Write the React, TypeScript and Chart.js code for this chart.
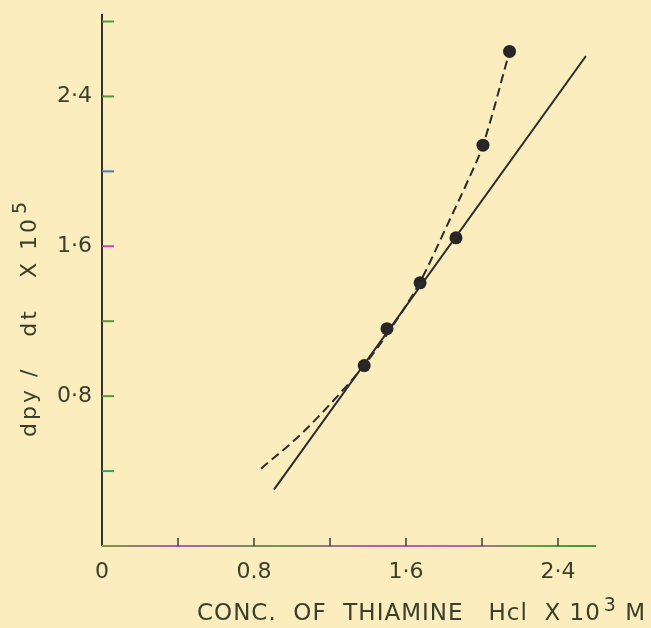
import { useEffect, useRef } from 'react';
import { Chart, registerables } from 'chart.js';

Chart.register(...registerables);

// ---- data ----
const fittedX = [0.905, 2.547];
const fittedY = [0.301, 2.616];

const measuredX = [1.38, 1.5, 1.674, 1.863, 2.005, 2.145];
const measuredY = [0.963, 1.16, 1.405, 1.645, 2.14, 2.64];

const curveX = [0.837, 1.04, 1.235, 1.38, 1.52, 1.674, 1.82, 1.93, 2.005, 2.145];
const curveY = [0.413, 0.59, 0.795, 0.965, 1.16, 1.41, 1.72, 1.96, 2.14, 2.64];

const xTickValues = [0.4, 0.8, 1.2, 1.6, 2.0, 2.4];
const yTickValues = [0.4, 0.8, 1.2, 1.6, 2.0, 2.4, 2.8];
const yTickColors = ['#3f9a6a', '#4f9a3a', '#4f9a3a', '#c04aa8', '#4a7ab8', '#4f9a3a', '#4f9a3a'];

const xTickLabels: Record<string, string> = { '0': '0', '8': '0.8', '16': '1·6', '24': '2·4' };
const yTickLabels: Record<string, string> = { '8': '0·8', '16': '1·6', '24': '2·4' };

const xTitle = 'CONC.  OF  THIAMINE   Hcl  X 10';
const xTitleSup = '3';
const xTitleEnd = ' M';
const yTitle = 'dpy /   dt   X 10';
const yTitleSup = '5';

const BG = '#fbedbd';
const INK = '#2b2b2b';
const TEXT = '#3a3f2c';
const FONT = "'DejaVu Sans', sans-serif";

const decoPlugin = {
  id: 'deco',
  beforeDraw(chart: any) {
    const { ctx } = chart;
    ctx.save();
    ctx.fillStyle = BG;
    ctx.fillRect(0, 0, chart.width, chart.height);
    ctx.restore();
  },
  afterDraw(chart: any) {
    const { ctx } = chart;
    const xs = chart.scales.x;
    const ys = chart.scales.y;
    const x0 = xs.getPixelForValue(0);
    const y0 = ys.getPixelForValue(0);
    const xEnd = xs.getPixelForValue(xs.max);
    const yTop = ys.getPixelForValue(ys.max);
    ctx.save();
    // y axis line
    ctx.strokeStyle = '#333333';
    ctx.lineWidth = 2;
    ctx.beginPath();
    ctx.moveTo(x0, y0);
    ctx.lineTo(x0, yTop);
    ctx.stroke();
    // x axis line with printing colour fringes
    const g = ctx.createLinearGradient(x0, 0, xEnd, 0);
    g.addColorStop(0, '#7a9a3a');
    g.addColorStop(0.15, '#b05ab8');
    g.addColorStop(0.35, '#6a9a50');
    g.addColorStop(0.55, '#b65ab0');
    g.addColorStop(0.72, '#c060b0');
    g.addColorStop(0.88, '#5aa040');
    g.addColorStop(1, '#3c9a3c');
    ctx.strokeStyle = g;
    ctx.beginPath();
    ctx.moveTo(x0, y0);
    ctx.lineTo(xEnd, y0);
    ctx.stroke();
    // x ticks (inward, upward)
    ctx.strokeStyle = '#3a3a30';
    ctx.lineWidth = 1.5;
    xTickValues.forEach((v) => {
      const px = xs.getPixelForValue(v);
      ctx.beginPath();
      ctx.moveTo(px, y0);
      ctx.lineTo(px, y0 - 8);
      ctx.stroke();
    });
    // y ticks (inward, right)
    ctx.lineWidth = 2;
    yTickValues.forEach((v, i) => {
      const py = ys.getPixelForValue(v);
      ctx.strokeStyle = yTickColors[i];
      ctx.beginPath();
      ctx.moveTo(x0, py);
      ctx.lineTo(x0 + 12, py);
      ctx.stroke();
    });
    // x title
    ctx.fillStyle = TEXT;
    ctx.textAlign = 'left';
    ctx.textBaseline = 'alphabetic';
    (ctx as any).letterSpacing = '1px';
    ctx.font = `23px ${FONT}`;
    let tx = 197;
    const ty = 620;
    ctx.fillText(xTitle, tx, ty);
    tx += ctx.measureText(xTitle).width + 3;
    ctx.font = `19px ${FONT}`;
    ctx.fillText(xTitleSup, tx, ty - 9);
    tx += ctx.measureText(xTitleSup).width;
    ctx.font = `23px ${FONT}`;
    ctx.fillText(xTitleEnd, tx, ty);
    // y title
    ctx.translate(36, 437);
    ctx.rotate(-Math.PI / 2);
    (ctx as any).letterSpacing = '3px';
    ctx.font = `22px ${FONT}`;
    ctx.fillText(yTitle, 0, 0);
    const w = ctx.measureText(yTitle).width;
    ctx.font = `19px ${FONT}`;
    ctx.fillText(yTitleSup, w + 2, -10);
    ctx.restore();
  },
};

export default function App() {
  const ref = useRef<HTMLCanvasElement | null>(null);
  useEffect(() => {
    if (!ref.current) return;
    const chart = new Chart(ref.current, {
      type: 'scatter',
      data: {
        datasets: [
          {
            data: fittedX.map((x, i) => ({ x, y: fittedY[i] })),
            showLine: true,
            borderColor: INK,
            borderWidth: 2,
            pointRadius: 0,
          },
          {
            data: curveX.map((x, i) => ({ x, y: curveY[i] })),
            showLine: true,
            borderColor: INK,
            borderWidth: 2,
            borderDash: [9, 5],
            cubicInterpolationMode: 'monotone',
            pointRadius: 0,
          },
          {
            data: measuredX.map((x, i) => ({ x, y: measuredY[i] })),
            showLine: false,
            pointRadius: 6.5,
            pointBackgroundColor: '#262626',
            pointBorderColor: '#262626',
            pointBorderWidth: 0,
          },
        ],
      } as any,
      options: {
        responsive: false,
        animation: false,
        layout: { padding: { top: 14, right: 55, left: 0, bottom: 0 } },
        plugins: { legend: { display: false }, tooltip: { enabled: false } },
        scales: {
          x: {
            type: 'linear',
            min: 0,
            max: 2.6,
            grid: { display: false, drawTicks: false },
            border: { display: false },
            afterFit: (s: any) => {
              s.height = 82;
              s.paddingLeft = 0;
              s.paddingRight = 0;
            },
            ticks: {
              stepSize: 0.4,
              includeBounds: false,
              autoSkip: false,
              maxRotation: 0,
              padding: 13,
              color: TEXT,
              font: { family: FONT, size: 22 },
              callback: (v: any) => xTickLabels[String(Math.round(Number(v) * 10))] ?? '',
            },
          },
          y: {
            type: 'linear',
            min: 0,
            max: 2.84,
            grid: { display: false, drawTicks: false },
            border: { display: false },
            afterFit: (s: any) => {
              s.width = 102;
              s.paddingTop = 0;
              s.paddingBottom = 0;
            },
            ticks: {
              stepSize: 0.4,
              includeBounds: false,
              autoSkip: false,
              padding: 10,
              color: TEXT,
              font: { family: FONT, size: 22 },
              callback: (v: any) => yTickLabels[String(Math.round(Number(v) * 10))] ?? '',
            },
          },
        },
      } as any,
      plugins: [decoPlugin],
    });
    return () => chart.destroy();
  }, []);
  return (
    <div style={{ position: 'fixed', left: 0, top: 0, width: 651, height: 628, background: BG }}>
      <canvas ref={ref} width={651} height={628} />
    </div>
  );
}
